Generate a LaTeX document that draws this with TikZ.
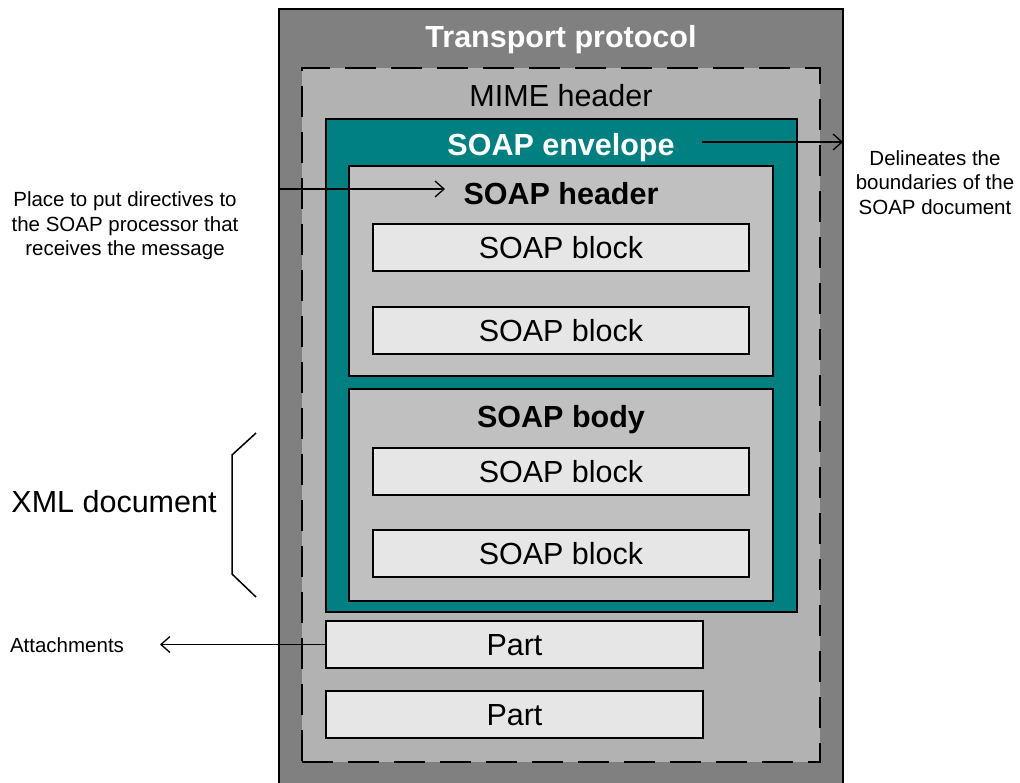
\documentclass[tikz,border=0pt]{standalone}
\usepackage{fontspec}
\setmainfont{Liberation Sans}
\usetikzlibrary{arrows.meta}

\definecolor{transportgray}{HTML}{808080}
\definecolor{mimegray}{HTML}{B2B2B2}
\definecolor{envteal}{HTML}{008080}
\definecolor{partgray}{HTML}{C0C0C0}
\definecolor{blockgray}{HTML}{E6E6E6}

\tikzset{
  layer/.style={draw=black, line width=1.5pt, outer sep=0pt, inner sep=0pt,
    rectangle, anchor=north west},
  big/.style={font=\fontsize{30.5}{36}\selectfont, inner sep=0pt, outer sep=0pt,
    text height=21.8pt, text depth=0pt},
  bigbold/.style={big, font=\fontsize{30.5}{36}\selectfont\bfseries},
  blockbox/.style={draw=black, line width=1.5pt, fill=blockgray, outer sep=0pt,
    inner sep=0pt, minimum height=47pt, font=\fontsize{30.5}{36}\selectfont,
    text height=21.8pt, text depth=0pt},
  note/.style={font=\fontsize{20.5}{24.5}\selectfont, inner sep=0pt, outer sep=0pt,
    align=center},
  pointer/.style={line width=1.3pt, -{Straight Barb[length=9pt,width=16pt]}},
}

\begin{document}
\begin{tikzpicture}[x=1pt, y=-1pt]
\useasboundingbox (0,0) rectangle (1020,782);
\clip (0,0) rectangle (1020,782);

% nested layers of the message
\node[layer, fill=transportgray, minimum width=564pt, minimum height=800pt]
  (transport) at (279,9) {};
\node[bigbold, text=white] (transportlbl) at (561,36.5) {Transport protocol};

\node[layer, fill=mimegray, dash pattern=on 31pt off 15pt, line width=2pt,
  minimum width=518pt, minimum height=694pt] (mime) at (302,68) {};
\node[big] (mimelbl) at (561,96) {MIME header};

\node[layer, fill=envteal, line width=2pt, minimum width=471pt, minimum height=493pt]
  (env) at (326,119) {};
\node[bigbold, text=white] (envlbl) at (561,145) {SOAP envelope};

\node[layer, fill=partgray, minimum width=424pt, minimum height=210pt]
  (header) at (349,166) {};
\node[bigbold] (headerlbl) at (561,193.5) {SOAP header};
\node[blockbox, minimum width=376pt] (hb1) at (561,247.5) {SOAP block};
\node[blockbox, minimum width=376pt] (hb2) at (561,330.5) {SOAP block};

\node[layer, fill=partgray, minimum width=424pt, minimum height=212pt]
  (body) at (349,389) {};
\node[bigbold] (bodylbl) at (561,417) {SOAP body};
\node[blockbox, minimum width=376pt] (bb1) at (561,471.5) {SOAP block};
\node[blockbox, minimum width=376pt] (bb2) at (561,553.5) {SOAP block};

% attachment parts
\node[blockbox, minimum width=377pt] (part1) at (514.5,644.5) {Part};
\node[blockbox, minimum width=377pt] (part2) at (514.5,714.5) {Part};

% annotations (base anchor = baseline of the last line)
\node[note, anchor=base] (hdrnote) at (125,255.7)
  {Place to put directives to\\the SOAP processor that\\receives the message};
\node[note, anchor=base] (envnote) at (935,214)
  {Delineates the\\boundaries of the\\SOAP document};
\node[big] (xmllbl) at (114,502) {XML document};
\node[note, text height=14.7pt, text depth=0pt] (attlbl) at (67,645) {Attachments};

\coordinate (hdrtip) at (445,189);
\coordinate (envtail) at (702,142);
\coordinate (atttip) at (160,644.5);

\draw[pointer] (transport.west |- hdrtip) -- (hdrtip);
\draw[pointer] (envtail) -- (envtail -| transport.east);
\draw[pointer] (part1.west) -- (atttip);

% bracket marking the XML document
\coordinate (brtop) at (256,433);
\coordinate (brbot) at (256,597);
\draw[line width=1.5pt] (brtop) -- (232,455) -- (232,574) -- (brbot);
\end{tikzpicture}
\end{document}
